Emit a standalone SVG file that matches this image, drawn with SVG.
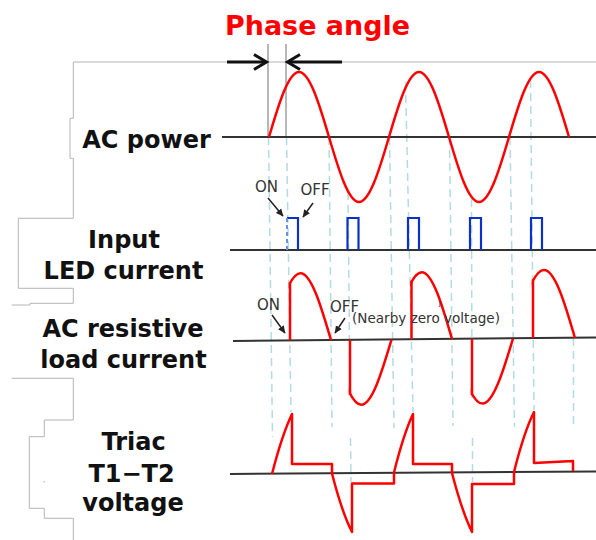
<svg xmlns="http://www.w3.org/2000/svg" width="596" height="540" viewBox="0 0 596 540">
<style>
.outline{fill:none;stroke:#b4b4b4;stroke-width:1}
.base{fill:none;stroke:#333;stroke-width:2}
.dash{fill:none;stroke:#b3dbe2;stroke-width:1.5;stroke-dasharray:8 5}
.wave{fill:none;stroke:#ff0000;stroke-width:2.5;stroke-linejoin:round}
.pulse{fill:none;stroke:#0a32c8;stroke-width:2.2}
.lbl{font-family:"DejaVu Sans",Verdana,sans-serif;font-weight:bold;font-size:24px;fill:#111;text-anchor:middle}
.small{font-family:"DejaVu Sans",Verdana,sans-serif;font-size:15px;fill:#333;text-anchor:middle}
.note{font-family:"DejaVu Sans",Verdana,sans-serif;font-size:13.5px;fill:#333}
.ptr{stroke:#222;stroke-width:1.5;fill:none}
.phase{fill:none;stroke:#111;stroke-width:3}
.vline{stroke:#888;stroke-width:1.2}
</style>
<defs>
<marker id="ah" markerWidth="8" markerHeight="8" refX="7" refY="4" orient="auto" markerUnits="userSpaceOnUse">
<path d="M0,0.5 L7.5,4 L0,7.5 Z" fill="#222"/>
</marker>
<clipPath id="c1" clipPathUnits="userSpaceOnUse"><rect x="288.75" y="0" width="60" height="540"/></clipPath>
<clipPath id="c2" clipPathUnits="userSpaceOnUse"><rect x="348.75" y="0" width="60" height="540"/></clipPath>
<clipPath id="c3" clipPathUnits="userSpaceOnUse"><rect x="410.25" y="0" width="60" height="540"/></clipPath>
<clipPath id="c4" clipPathUnits="userSpaceOnUse"><rect x="470.75" y="0" width="60" height="540"/></clipPath>
<clipPath id="c5" clipPathUnits="userSpaceOnUse"><rect x="531.75" y="0" width="64" height="540"/></clipPath>
</defs>
<rect width="596" height="540" fill="#fff"/>

<g id="outline">
<polyline class="outline" points="596,62 73.3,62 73.3,118.3 70,118.3 70,158.3 73.3,158.3 73.3,218.3 18.3,218.3 18.3,288.3 73.3,288.3 73.3,303.3 30,303.3 30,305 11.7,305"/>
<polyline class="outline" points="11.7,378.3 73.3,378.3 73.3,420 44.3,420 44.3,436.7 29.3,436.7 29.3,508.3 44.3,508.3 44.3,518.3 73.3,518.3 73.3,540"/>
<circle cx="44.3" cy="481.7" r="0.8" fill="#bbb"/>
</g>

<g id="guides">
<line class="dash" x1="268.5" y1="137" x2="272.5" y2="437"/>
<line class="dash" x1="286.5" y1="137" x2="291" y2="412"/>
<line class="dash" x1="329" y1="137" x2="332" y2="427"/>
<line class="dash" x1="348" y1="192" x2="350" y2="398"/>
<line class="dash" x1="350.5" y1="438" x2="351" y2="482"/>
<line class="dash" x1="389.5" y1="137" x2="394" y2="428"/>
<line class="dash" x1="405.5" y1="82" x2="413" y2="412"/>
<line class="dash" x1="449.5" y1="137" x2="453" y2="426"/>
<line class="dash" x1="471.5" y1="199" x2="472" y2="398"/>
<line class="dash" x1="472.5" y1="438" x2="472.5" y2="482"/>
<line class="dash" x1="510" y1="137" x2="514.5" y2="427"/>
<line class="dash" x1="530.5" y1="80" x2="534" y2="410"/>
<line class="dash" x1="573.5" y1="338" x2="573.5" y2="424"/>
<line class="vline" x1="268" y1="44" x2="268" y2="137"/>
<line class="vline" x1="286" y1="44" x2="286" y2="137"/>
</g>

<g id="title">
<text x="317.5" y="35" font-family="'DejaVu Sans',Verdana,sans-serif" font-weight="bold" font-size="26" fill="#ff0000" text-anchor="middle" textLength="185" lengthAdjust="spacingAndGlyphs">Phase angle</text>
</g>

<g id="ac-power">
<text class="lbl" x="146.5" y="148">AC power</text>
<line class="base" x1="222" y1="137" x2="596" y2="137"/>
<path class="wave" d="M269,137 C278.8,103.67 288.46,72 299,72 C309.54,72 319.2,103.67 329,137 C338.8,170.33 348.46,202 359,202 C369.54,202 379.2,170.33 389,137 C398.8,103.67 408.46,72 419,72 C429.54,72 439.2,103.67 449,137 C458.8,170.33 468.46,202 479,202 C489.54,202 499.2,170.33 509,137 C518.8,103.67 528.46,72 539,72 C549.54,72 559.2,103.67 569,137"/>
</g>

<g id="input-led-current">
<text class="lbl" x="124" y="248">Input</text>
<text class="lbl" x="123.5" y="279">LED current</text>
<line class="base" x1="230" y1="250" x2="596" y2="250"/>
<path class="pulse" d="M287,218 H298 V250"/>
<path d="M287,218 V250" fill="none" stroke="#6f8fe6" stroke-width="2" stroke-dasharray="4 3"/>
<path class="pulse" d="M347.5,250 V218 H358.5 V250"/>
<path class="pulse" d="M408,250 V218 H419 V250"/>
<path class="pulse" d="M470,250 V218 H481 V250"/>
<path class="pulse" d="M531,250 V218 H542 V250"/>
<text class="small" x="266.5" y="192">ON</text>
<text class="small" x="315" y="195">OFF</text>
</g>

<g id="ac-resistive-load-current">
<text class="lbl" x="123" y="337">AC resistive</text>
<text class="lbl" x="123.5" y="368">load current</text>
<line class="base" x1="233" y1="341" x2="596" y2="337.5"/>
<path class="wave" clip-path="url(#c1)" d="M270,340.2 C279.96,305.84 289.79,273.2 300.5,273.2 C311.21,273.2 320.96,305.84 331,340.2"/>
<line class="wave" x1="290" y1="340.2" x2="290" y2="282"/>
<path class="wave" clip-path="url(#c2)" d="M331,339.7 C340.88,373.03 350.62,404.7 361.25,404.7 C371.88,404.7 381.62,373.03 391.5,339.7"/>
<line class="wave" x1="350" y1="339.7" x2="350" y2="395"/>
<path class="wave" clip-path="url(#c3)" d="M391.5,339.2 C401.38,304.84 411.12,272.2 421.75,272.2 C432.38,272.2 442.12,304.84 452,339.2"/>
<line class="wave" x1="411.5" y1="339.2" x2="411.5" y2="280.5"/>
<path class="wave" clip-path="url(#c4)" d="M452,338.6 C461.96,371.93 471.79,403.6 482.5,403.6 C493.21,403.6 502.96,371.93 513,338.6"/>
<line class="wave" x1="472" y1="338.6" x2="472" y2="395.3"/>
<path class="wave" clip-path="url(#c5)" d="M513,338 C523.12,303.13 533.11,270 544,270 C554.89,270 564.88,303.13 575,338"/>
<line class="wave" x1="533" y1="338" x2="533" y2="279.3"/>
<text class="small" x="268.5" y="310">ON</text>
<text class="small" x="344.5" y="312">OFF</text>
<text class="note" x="352" y="323" textLength="148" lengthAdjust="spacingAndGlyphs">(Nearby zero voltage)</text>
<text x="439.5" y="307" font-family="'Liberation Serif',serif" font-size="9" fill="#555" text-anchor="middle">1</text>
</g>

<g id="triac-t1-t2-voltage">
<text class="lbl" x="133.5" y="450">Triac</text>
<text class="lbl" x="131.5" y="482">T1−T2</text>
<text class="lbl" x="133" y="511">voltage</text>
<line class="base" x1="230" y1="474" x2="596" y2="471.5"/>
<path class="wave" d="M272,474 Q282,435 292,414 V464 H332 V473.5 Q342,512.5 352,532 V483.5 H394 V472.5 Q403.5,434.2 413,414 V464 H452 V473 Q462,511.5 472,532 V484 H514 V472 Q524,432 534,412 V463 L573,461 V471"/>
</g>

<g id="connectors">
<line class="phase" x1="227" y1="62" x2="266" y2="62"/>
<polyline class="phase" points="254,54.5 266.5,62 254,69.5"/>
<line class="phase" x1="342" y1="62" x2="288" y2="62"/>
<polyline class="phase" points="300,54.5 287.5,62 300,69.5"/>
<line class="ptr" x1="268" y1="198" x2="283" y2="216" marker-end="url(#ah)"/>
<line class="ptr" x1="313" y1="203" x2="303" y2="217" marker-end="url(#ah)"/>
<line class="ptr" x1="272" y1="315" x2="285" y2="333" marker-end="url(#ah)"/>
<line class="ptr" x1="345" y1="318" x2="335" y2="333" marker-end="url(#ah)"/>
</g>
</svg>
